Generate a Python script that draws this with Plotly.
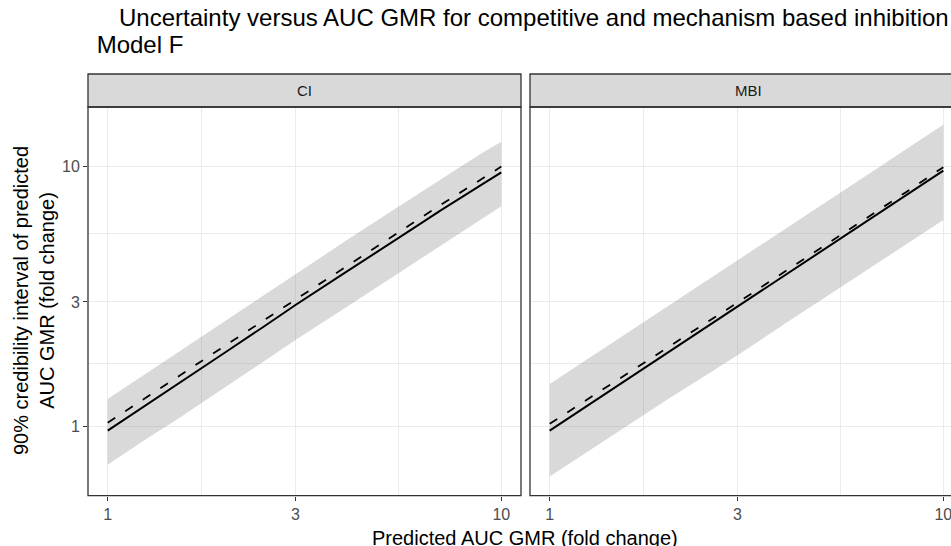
import plotly.graph_objects as go

# Predicted AUC GMR (fold change) grid
gmr = [1.0, 1.25, 1.5, 2.0, 2.5, 3.0, 4.0, 5.0, 6.0, 7.0, 8.0, 9.0, 10.0]

# Competitive inhibition (CI)
ci_median = [0.96, 1.20, 1.44, 1.93, 2.42, 2.92, 3.88, 4.82, 5.78, 6.74, 7.62, 8.55, 9.45]
ci_estimate = [1.03, 1.28, 1.54, 2.05, 2.56, 3.07, 4.08, 5.08, 6.08, 7.07, 8.02, 9.00, 9.95]
ci_lower = [0.71, 0.89, 1.06, 1.42, 1.77, 2.14, 2.84, 3.54, 4.23, 4.93, 5.60, 6.30, 7.00]
ci_upper = [1.27, 1.59, 1.91, 2.56, 3.20, 3.86, 5.12, 6.38, 7.64, 8.88, 10.1, 11.3, 12.4]

# Mechanism based inhibition (MBI)
mbi_median = [0.96, 1.20, 1.44, 1.92, 2.40, 2.88, 3.84, 4.80, 5.77, 6.73, 7.68, 8.64, 9.60]
mbi_estimate = [1.02, 1.27, 1.52, 2.02, 2.50, 2.98, 3.96, 4.95, 5.93, 6.92, 7.90, 8.90, 9.90]
mbi_lower = [0.64, 0.80, 0.96, 1.27, 1.57, 1.87, 2.50, 3.12, 3.74, 4.35, 4.97, 5.60, 6.20]
mbi_upper = [1.45, 1.81, 2.17, 2.89, 3.61, 4.33, 5.78, 7.22, 8.66, 10.1, 11.55, 13.0, 14.4]

panels = ["CI", "MBI"]
tick_vals = [1, 3, 10]
tick_text = ["1", "3", "10"]
minor_vals = [1.7320508, 5.4772256]

title_line1 = "Uncertainty versus AUC GMR for competitive and mechanism based inhibition"
title_line2 = "\u00a0Model F"
x_title = "Predicted AUC GMR (fold change)"
y_title = "90% credibility interval of predicted<br>AUC GMR (fold change)"

W, H = 951, 546
FONT = "Arial, Liberation Sans, sans-serif"


def px(x):
    return x / W


def py(y):
    return 1 - y / H


fig = go.Figure()

series = [
    ("x", "y", ci_median, ci_estimate, ci_lower, ci_upper),
    ("x2", "y2", mbi_median, mbi_estimate, mbi_lower, mbi_upper),
]
for xa, ya, med, est, lo, hi in series:
    fig.add_trace(go.Scatter(x=gmr, y=lo, mode="lines", line=dict(width=0),
                             xaxis=xa, yaxis=ya, hoverinfo="skip"))
    fig.add_trace(go.Scatter(x=gmr, y=hi, mode="lines", line=dict(width=0),
                             fill="tonexty", fillcolor="rgba(128,128,128,0.30)",
                             xaxis=xa, yaxis=ya, hoverinfo="skip"))
    fig.add_trace(go.Scatter(x=gmr, y=med, mode="lines",
                             line=dict(color="black", width=2),
                             xaxis=xa, yaxis=ya))
    fig.add_trace(go.Scatter(x=gmr, y=est, mode="lines",
                             line=dict(color="black", width=1.8, dash="9px,12px"),
                             xaxis=xa, yaxis=ya))

panel_top, panel_bot = 107, 495.7
strip_top = 74
left_panel = (88, 521)
right_panel = (530, 966)

axis_common = dict(
    type="log",
    showline=False,
    zeroline=False,
    gridcolor="#EBEBEB",
    gridwidth=1.2,
    ticks="outside",
    ticklen=4,
    tickwidth=1.2,
    tickcolor="#333333",
    tickvals=tick_vals,
    ticktext=tick_text,
    ticklabeloverflow="allow",
    tickfont=dict(family=FONT, size=16, color="#4D4D4D"),
    minor=dict(tickvals=minor_vals, showgrid=True, gridcolor="#EBEBEB",
               gridwidth=0.8, ticks=""),
)

x_scale = (left_panel[1] - left_panel[0]) / 1.1
x2_max = -0.05 + (W - right_panel[0]) / x_scale

fig.update_layout(
    width=W, height=H,
    margin=dict(l=0, r=0, t=0, b=0),
    paper_bgcolor="white",
    plot_bgcolor="white",
    showlegend=False,
    xaxis=dict(axis_common, domain=[px(left_panel[0]), px(left_panel[1])],
               range=[-0.05, 1.05], anchor="y"),
    xaxis2=dict(axis_common, domain=[px(right_panel[0]), 1.0],
                range=[-0.05, x2_max], anchor="y2"),
    yaxis=dict(axis_common, domain=[py(panel_bot), py(panel_top)],
               range=[-0.268, 1.227], anchor="x"),
    yaxis2=dict(axis_common, domain=[py(panel_bot), py(panel_top)],
                range=[-0.268, 1.227], anchor="x2", showticklabels=False,
                ticks=""),
)

shapes = []
for (x0, x1) in (left_panel, right_panel):
    # strip background
    shapes.append(dict(type="rect", xref="paper", yref="paper",
                       x0=px(x0), x1=px(x1), y0=py(panel_top), y1=py(strip_top),
                       fillcolor="#D9D9D9", line=dict(color="#333333", width=1.3),
                       layer="above"))
    # panel border
    shapes.append(dict(type="rect", xref="paper", yref="paper",
                       x0=px(x0), x1=px(x1), y0=py(panel_bot), y1=py(panel_top),
                       fillcolor="rgba(0,0,0,0)", line=dict(color="#333333", width=1.3),
                       layer="above"))
fig.update_layout(shapes=shapes)

annotations = []
for name, (x0, x1) in zip(panels, (left_panel, right_panel)):
    annotations.append(dict(text=name, xref="paper", yref="paper",
                            x=px((x0 + x1) / 2), y=py((strip_top + panel_top) / 2),
                            xanchor="center", yanchor="middle", showarrow=False,
                            font=dict(family=FONT, size=15, color="#1A1A1A")))

annotations.append(dict(text=title_line1, xref="paper", yref="paper",
                        x=px(117), y=py(18), xanchor="left", yanchor="middle",
                        showarrow=False, font=dict(family=FONT, size=24, color="black")))
annotations.append(dict(text=title_line2, xref="paper", yref="paper",
                        x=px(88), y=py(44), xanchor="left", yanchor="middle",
                        showarrow=False, font=dict(family=FONT, size=24, color="black")))
annotations.append(dict(text=x_title, xref="paper", yref="paper",
                        x=px(525), y=py(538), xanchor="center", yanchor="middle",
                        showarrow=False, font=dict(family=FONT, size=20, color="black")))
annotations.append(dict(text=y_title, xref="paper", yref="paper",
                        x=px(34), y=py(301), xanchor="center", yanchor="middle",
                        textangle=-90, showarrow=False,
                        font=dict(family=FONT, size=20, color="black")))
fig.update_layout(annotations=annotations)

fig.write_html("out.html")
